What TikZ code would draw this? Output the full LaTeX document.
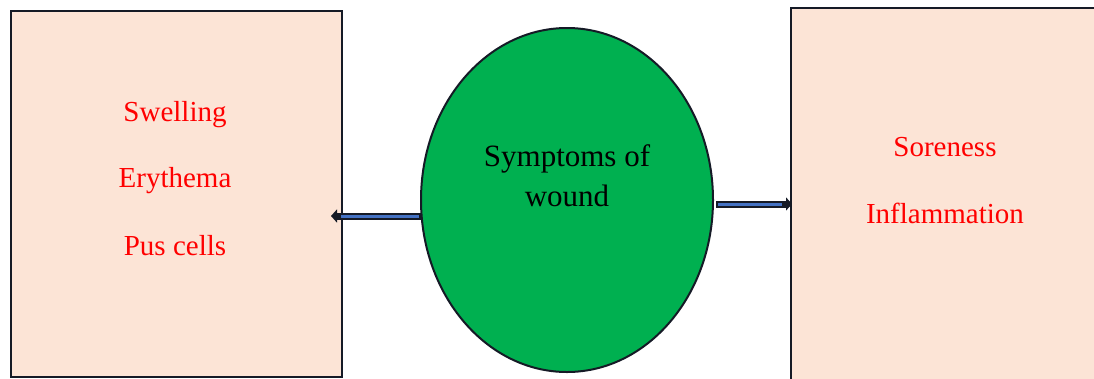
\documentclass[tikz,border=0pt]{standalone}
\usepackage{fontspec}
\setmainfont{Liberation Serif}
\usetikzlibrary{arrows.meta,shapes.geometric}
\definecolor{peach}{HTML}{FCE4D6}
\definecolor{grn}{HTML}{00B050}
\definecolor{edge}{HTML}{151A26}
\definecolor{arrblue}{HTML}{4472C4}
\begin{document}
\begin{tikzpicture}[x=1pt,y=-1pt,
  box/.style={draw=edge, line width=2pt, fill=peach},
  lbl/.style={text=red, font=\fontsize{29}{34}\selectfont, anchor=center},
  arrout/.style={draw=edge, line width=7pt, -{Triangle[length=6pt,width=13pt]}},
  arrin/.style={draw=arrblue, line width=3pt}]
\useasboundingbox (0,0) rectangle (1094,378);
\fill[white] (0,0) rectangle (1094,378);
\node[box, minimum width=331pt, minimum height=366pt, anchor=north west, inner sep=0] (L) at (10,10) {};
\node[box, minimum width=330pt, minimum height=390pt, anchor=north west, inner sep=0] (R) at (790,7) {};
\node[draw=edge, line width=2pt, fill=grn, ellipse, minimum width=292pt, minimum height=344pt, inner sep=0] (E) at (567,200) {};
\node[font=\fontsize{31}{40}\selectfont, align=center, text=black] (T) at (567,176) {Symptoms of\\wound};
\node[lbl] (s1) at (175,115) {Swelling};
\node[lbl] (s2) at (175,181) {Erythema};
\node[lbl] (s3) at (175,246) {Pus cells};
\node[lbl] (r1) at (945,147) {Soreness};
\node[lbl] (r2) at (945,213) {Inflammation};
\coordinate (la) at (421,216);
\coordinate (lb) at (331,216);
\coordinate (ra) at (716,204);
\coordinate (rb) at (792,204);
\draw[arrout] (la) -- (lb);
\draw[arrin] ([xshift=-2pt]la) -- ([xshift=10pt]lb);
\draw[arrout] (ra) -- (rb);
\draw[arrin] ([xshift=2pt]ra) -- ([xshift=-10pt]rb);
\end{tikzpicture}
\end{document}
